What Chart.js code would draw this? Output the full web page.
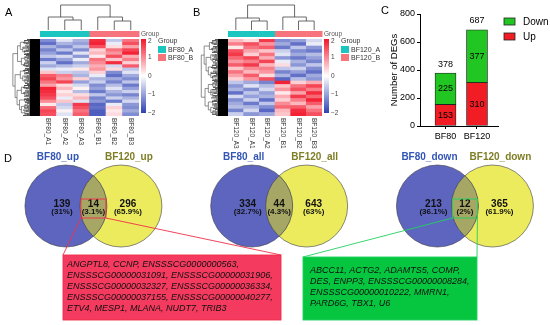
<!DOCTYPE html>
<html>
<head>
<meta charset="utf-8">
<script src="https://cdn.jsdelivr.net/npm/chart.js@4.4.1/dist/chart.umd.min.js"></script>
<style>
  html, body { margin: 0; padding: 0; background: #fff; }
  #fig { position: relative; width: 550px; height: 325px; overflow: hidden; font-family: "Liberation Sans", Arial, sans-serif; }
  #fig canvas { position: absolute; }
  .tag { position: absolute; font-size: 11px; line-height: 11px; color: #000; }
</style>
</head>
<body>
<div id="fig">
  <canvas id="heatA" width="200" height="150" style="left:0;top:0"></canvas>
  <canvas id="heatB" width="200" height="150" style="left:190px;top:0"></canvas>
  <canvas id="degBar" width="170" height="150" style="left:380px;top:0"></canvas>
  <canvas id="venn" width="550" height="180" style="left:0;top:145px"></canvas>
  <div class="tag" style="left:5px;top:7px">A</div>
  <div class="tag" style="left:193px;top:7px">B</div>
  <div class="tag" style="left:381px;top:5px">C</div>
  <div class="tag" style="left:4px;top:153px">D</div>
</div>
<script>
// ---- A / B : heatmaps (z-scores, rows top -> bottom)
const samplesA = ['BF80_A1', 'BF80_A2', 'BF80_A3', 'BF80_B1', 'BF80_B2', 'BF80_B3'];
const groupsA = ['A', 'A', 'A', 'B', 'B', 'B'];
const legendA = ['BF80_A', 'BF80_B'];
const zA = [
  [-1.2, -0.3, -0.8,  1.8, -0.6,  1.2],
  [-1.5, -0.8, -1.0,  1.9, -0.2,  1.5],
  [-0.8, -1.2, -0.6,  1.5,  0.3,  0.8],
  [-1.3, -0.6, -1.2,  0.4,  1.2,  1.6],
  [-1.0, -1.4, -0.3,  0.6,  0.9,  1.9],
  [-0.6, -0.4, -1.1,  0.2,  1.5,  0.7],
  [-1.4, -1.0, -0.2,  1.2,  0.5,  1.1],
  [-0.5, -1.5, -0.9,  1.0,  1.8,  0.4],
  [-0.9, -0.7, -0.5,  0.7, -0.4,  1.4],
  [-0.3, -0.2,  0.2,  0.9,  0.3, -0.6],
  [ 0.5, -0.5, -0.6,  0.4, -1.2, -0.3],
  [ 1.4,  1.1, -0.8, -0.2, -1.5, -0.9],
  [ 1.6,  0.9,  0.4, -0.8, -0.9, -1.2],
  [ 1.2,  1.6, -1.0, -0.5, -1.3, -0.6],
  [ 0.8,  0.3, -0.4, -1.2, -0.7, -1.4],
  [ 1.9,  0.6,  0.1, -1.0, -0.3, -1.0],
  [ 1.8,  0.2, -0.7, -1.4, -0.8, -0.5],
  [ 1.7,  0.4,  0.3, -0.6, -1.1, -1.3],
  [ 1.5, -0.2,  0.6, -1.3, -0.5, -0.8],
  [ 1.0,  0.5, -0.3, -1.1, -1.4, -0.4],
  [ 0.2, -0.6,  1.7, -1.6, -0.2, -1.1],
  [ 1.3, -0.4,  1.5, -1.5,  0.4, -1.2],
  [ 1.6,  0.1,  1.2, -1.7,  0.2, -0.9],
  [ 1.5, -0.3,  1.4, -1.7,  0.3, -1.2]
];
const colTreeA = { h: 25, c: [{ h: 13, c: [0, { h: 10, c: [1, 2] }] }, { h: 13, c: [3, { h: 9, c: [4, 5] }] }] };
const rowTreeA = [[[[0, 1], [2, [3, 4]]], [[5, 6], [7, 8]]], [[[9, 10], [11, [12, 13]]], [[[14, 15], [16, 17]], [[18, 19], [[20, 21], [22, 23]]]]]];

const samplesB = ['BF120_A3', 'BF120_A1', 'BF120_A2', 'BF120_B1', 'BF120_B2', 'BF120_B3'];
const groupsB = ['A', 'A', 'A', 'B', 'B', 'B'];
const legendB = ['BF120_A', 'BF120_B'];
const zB = [
  [ 0.6,  0.3,  1.7, -1.2, -1.0, -0.4],
  [ 1.1,  1.5,  0.9, -0.9, -1.5, -0.2],
  [ 0.2,  1.2,  1.4, -1.4, -0.6, -1.1],
  [ 1.5,  0.8,  0.5, -0.5, -1.2, -1.4],
  [ 1.7,  0.4,  1.2, -0.3, -0.9, -0.7],
  [ 1.3,  1.6,  0.7, -1.1, -1.4, -1.0],
  [ 0.9,  1.1,  1.6, -0.2, -0.8, -1.3],
  [ 1.4,  1.7,  0.6,  0.3, -1.1, -0.6],
  [ 0.5,  1.0,  1.1, -0.6, -0.5, -1.2],
  [ 1.2,  0.6,  0.9, -1.3, -1.0, -1.5],
  [ 0.8,  1.4,  0.3, -0.8, -1.5, -0.9],
  [ 0.4,  0.9,  1.5, -1.6, -0.7, -1.1],
  [-0.6, -0.9, -1.3,  1.9,  0.4,  0.7],
  [-1.1, -0.3, -0.7,  0.5,  1.2,  1.6],
  [-0.8, -1.2, -0.4,  0.9,  1.5,  1.1],
  [-1.5, -0.6, -1.0,  0.2,  0.8,  1.8],
  [-0.4, -1.0, -0.8,  0.7,  1.7,  1.3],
  [-1.2, -0.5, -1.5,  0.4,  1.1,  1.9],
  [-0.9, -1.4, -0.6,  1.0,  0.6,  1.4],
  [-0.7, -0.8, -1.2,  1.3,  1.4,  0.8],
  [-1.3, -0.4, -1.6,  0.6,  1.8,  1.2],
  [-0.5, -1.1, -0.9,  0.5,  1.9,  1.5]
];
const colTreeB = { h: 25, c: [{ h: 12, c: [0, { h: 9, c: [1, 2] }] }, { h: 13, c: [3, { h: 9, c: [4, 5] }] }] };
const rowTreeB = [[[[0, 1], [2, 3]], [[4, [5, 6]], [[7, 8], [9, [10, 11]]]]], [[[12, 13], [14, [15, 16]]], [[17, 18], [19, [20, 21]]]]];

const zTicks = [2, 1, 0, -1, -2];

// ---- C : DEG counts
const barCats = ['BF80', 'BF120'];
const upCounts = [153, 310];
const downCounts = [225, 377];

// ---- D : venn diagrams
const vennNames = [['BF80_up', 'BF120_up'], ['BF80_all', 'BF120_all'], ['BF80_down', 'BF120_down']];
const vennCounts = [[139, 14, 296], [334, 44, 643], [213, 12, 365]];
const vennPct = [['31%', '3.1%', '65.9%'], ['32.7%', '4.3%', '63%'], ['36.1%', '2%', '61.9%']];
const upSharedGenes = [
  'ANGPTL8, CCNP, ENSSSCG0000000563,',
  'ENSSSCG00000031091, ENSSSCG00000031906,',
  'ENSSSCG00000032327, ENSSSCG00000036334,',
  'ENSSSCG00000037155, ENSSSCG00000040277,',
  'ETV4, MESP1, MLANA, NUDT7, TRIB3'
];
const downSharedGenes = [
  'ABCC11, ACTG2, ADAMTS5, COMP,',
  'DES, ENPP3, ENSSSCG00000008284,',
  'ENSSSCG00000010222, MMRN1,',
  'PARD6G, TBX1, U6'
];

const FONT = '"Liberation Sans", Arial, sans-serif';
const C = {
  low: [45, 65, 180],
  high: [242, 22, 42],
  teal: '#1cc6c0',
  pink: '#f8747c',
  tree: '#444',
  up: '#f21d24',
  down: '#22c622',
  blue: '#5d65bf',
  yellow: '#ebeb5d',
  olive: '#a6a665',
  blueTxt: '#3355b5',
  oliveTxt: '#7e7e26',
  redBox: '#f43a5e',
  redLine: '#f0304a',
  greenBox: '#06c640',
  greenLine: '#22d060'
};

function zColor(v) {
  const t = Math.max(-1, Math.min(1, v / 2));
  const end = t < 0 ? C.low : C.high;
  const k = Math.abs(t);
  const c = [0, 1, 2].map(j => Math.round(255 + (end[j] - 255) * k));
  return 'rgb(' + c.join(',') + ')';
}

function line(ctx, x1, y1, x2, y2) {
  ctx.beginPath(); ctx.moveTo(x1, y1); ctx.lineTo(x2, y2); ctx.stroke();
}

// dendrograms, group strip, colour key, legend, sample labels
function heatDecor(samples, groups, colTree, rowTree, legendNames) {
  const jitter = [3, 6, 2, 7, 4, 1, 5, 3, 7, 2, 4, 6, 1, 3, 6, 4, 2, 5, 3, 1, 5];
  return {
    id: 'heatDecor',
    afterDraw(chart) {
      const { ctx, chartArea: a } = chart;
      const xs = chart.scales.x, ys = chart.scales.y;
      const n = chart.data.datasets.length;
      const cw = (a.right - a.left) / samples.length;
      ctx.save();

      // group strip
      groups.forEach((g, i) => {
        ctx.fillStyle = g === 'A' ? C.teal : C.pink;
        ctx.fillRect(a.left + i * cw, a.top - 8, cw + 0.5, 6);
      });

      // column dendrogram
      ctx.strokeStyle = C.tree; ctx.lineWidth = 0.8;
      const base = a.top - 9;
      const colNode = node => {
        if (typeof node === 'number') return { x: xs.getPixelForValue(node), y: base };
        const l = colNode(node.c[0]), r = colNode(node.c[1]);
        const y = base - node.h;
        line(ctx, l.x, l.y, l.x, y); line(ctx, r.x, r.y, r.x, y); line(ctx, l.x, y, r.x, y);
        return { x: (l.x + r.x) / 2, y };
      };
      colNode(colTree);

      // row dendrogram: dense fringe + coarse tree
      const h = a.bottom - a.top;
      ctx.fillStyle = '#000';
      ctx.fillRect(a.left - 10, a.top, 10, h);
      ctx.strokeStyle = '#000'; ctx.lineWidth = 0.7;
      const sub = n * 3;
      for (let k = 0; k < sub; k++) {
        const y = a.top + (k + 0.5) * h / sub;
        line(ctx, a.left - 10, y, a.left - 10 - jitter[k % jitter.length], y);
      }
      const fx = a.left - 12;
      ctx.strokeStyle = C.tree; ctx.lineWidth = 0.6;
      const rowNode = node => {
        if (typeof node === 'number') return { x: fx, y: ys.getPixelForValue(n - node - 0.5), size: 1 };
        const l = rowNode(node[0]), r = rowNode(node[1]);
        const size = l.size + r.size;
        const x = Math.min(fx - 3.3 * Math.log2(size), Math.min(l.x, r.x) - 1.5);
        line(ctx, l.x, l.y, x, l.y); line(ctx, r.x, r.y, x, r.y); line(ctx, x, l.y, x, r.y);
        return { x, y: (l.y + r.y) / 2, size };
      };
      rowNode(rowTree);

      // colour key
      const kx = a.right + 2, kt = a.top, kb = a.bottom - 3;
      const grad = ctx.createLinearGradient(0, kt, 0, kb);
      grad.addColorStop(0, zColor(2)); grad.addColorStop(0.5, '#fff'); grad.addColorStop(1, zColor(-2));
      ctx.fillStyle = grad;
      ctx.fillRect(kx, kt, 5, kb - kt);
      ctx.fillStyle = '#444';
      ctx.font = '6.5px ' + FONT;
      ctx.textAlign = 'left'; ctx.textBaseline = 'middle';
      zTicks.forEach(v => {
        const y = kt + (2 - v) / 4 * (kb - kt);
        ctx.fillText(v < 0 ? '\u2212' + Math.abs(v) : String(v), kx + 7, Math.max(y, kt + 2));
      });
      ctx.fillStyle = '#555';
      ctx.fillText('Group', kx, a.top - 5);

      // group legend
      const lx = a.right + 19;
      ctx.fillStyle = '#333';
      ctx.font = '7px ' + FONT;
      ctx.fillText('Group', lx, a.top + 2);
      [C.teal, C.pink].forEach((col, i) => {
        ctx.fillStyle = col;
        ctx.fillRect(lx, a.top + 7 + i * 8, 8, 7);
        ctx.fillStyle = '#333';
        ctx.fillText(legendNames[i], lx + 10, a.top + 11 + i * 8);
      });

      // sample labels (rotated clockwise)
      ctx.font = '6.5px ' + FONT;
      ctx.fillStyle = '#333';
      samples.forEach((s, i) => {
        ctx.save();
        ctx.translate(xs.getPixelForValue(i), a.bottom + 2);
        ctx.rotate(Math.PI / 2);
        ctx.fillText(s, 0, 0);
        ctx.restore();
      });
      ctx.restore();
    }
  };
}

function heatmap(id, samples, groups, z, colTree, rowTree, legendNames, pad) {
  const datasets = z.slice().reverse().map(row => ({
    data: row.map(() => 1),
    backgroundColor: row.map(zColor),
    borderWidth: 0,
    barPercentage: 1,
    categoryPercentage: 1
  }));
  new Chart(document.getElementById(id), {
    type: 'bar',
    data: { labels: samples, datasets },
    options: {
      responsive: false,
      animation: false,
      events: [],
      layout: { padding: pad, autoPadding: false },
      plugins: { legend: { display: false }, tooltip: { enabled: false } },
      scales: {
        x: { display: false, stacked: true },
        y: { display: false, stacked: true, min: 0, max: z.length }
      }
    },
    plugins: [heatDecor(samples, groups, colTree, rowTree, legendNames)]
  });
}

heatmap('heatA', samplesA, groupsA, zA, colTreeA, rowTreeA, legendA, { left: 40, right: 61, top: 39, bottom: 34 });
heatmap('heatB', samplesB, groupsB, zB, colTreeB, rowTreeB, legendB, { left: 38, right: 68, top: 39, bottom: 34 });

// ---- C
const BarLabels = {
  id: 'BarLabels',
  afterDatasetsDraw(chart) {
    const { ctx, chartArea: a } = chart;
    ctx.save();
    ctx.font = '9px ' + FONT;
    ctx.fillStyle = '#000';
    ctx.textAlign = 'center'; ctx.textBaseline = 'middle';
    chart.data.datasets.forEach((ds, di) => {
      chart.getDatasetMeta(di).data.forEach((el, i) => {
        ctx.fillText(String(ds.data[i].y), el.x, (el.y + el.base) / 2);
      });
    });
    chart.getDatasetMeta(1).data.forEach((el, i) => {
      ctx.fillText(String(upCounts[i] + downCounts[i]), el.x, el.y - 9);
    });
    // legend
    ctx.font = '10px ' + FONT;
    ctx.textAlign = 'left';
    [['Down', C.down], ['Up', C.up]].forEach(([name, col], i) => {
      const y = a.top + 4 + i * 15;
      ctx.fillStyle = col;
      ctx.fillRect(a.right + 6, y, 11, 7);
      ctx.strokeStyle = '#222'; ctx.lineWidth = 0.8;
      ctx.strokeRect(a.right + 6, y, 11, 7);
      ctx.fillStyle = '#000';
      ctx.fillText(name, a.right + 25, y + 4);
    });
    ctx.restore();
  }
};

new Chart(document.getElementById('degBar'), {
  type: 'bar',
  data: {
    datasets: [
      { label: 'Up', data: upCounts.map((v, i) => ({ x: i + 1, y: v })), backgroundColor: C.up },
      { label: 'Down', data: downCounts.map((v, i) => ({ x: i + 1, y: v })), backgroundColor: C.down }
    ]
  },
  options: {
    responsive: false,
    animation: false,
    events: [],
    layout: { padding: { top: 14, right: 52, left: 0, bottom: 0 } },
    plugins: { legend: { display: false }, tooltip: { enabled: false } },
    datasets: { bar: { barThickness: 21, borderColor: '#222', borderWidth: 0.8, borderSkipped: false } },
    scales: {
      x: {
        type: 'linear', stacked: true, offset: false,
        min: 0.19, max: 2.667,
        afterBuildTicks: s => { s.ticks = barCats.map((_, i) => ({ value: i + 1 })); },
        afterFit: s => { s.height = 24; },
        ticks: { callback: v => barCats[v - 1], color: '#000', font: { size: 9, family: FONT }, autoSkip: false, maxRotation: 0, padding: 2 },
        grid: { display: true, drawOnChartArea: false, drawTicks: true, tickLength: 3, color: '#000', offset: false },
        border: { color: '#000', width: 1 }
      },
      y: {
        stacked: true, min: 0, max: 800,
        afterFit: s => { s.width = 40; },
        ticks: { stepSize: 200, color: '#000', font: { size: 9, family: FONT }, padding: 2 },
        grid: { display: true, drawOnChartArea: false, drawTicks: true, tickLength: 3, color: '#000' },
        border: { color: '#000', width: 1 },
        title: { display: true, text: 'Number of DEGs', color: '#000', font: { size: 9.5, family: FONT }, padding: { top: 9, bottom: 0 } }
      }
    }
  },
  plugins: [BarLabels]
});

// ---- D
const V = { off: 0.148, y: 0.661, r: 41 };
const boxes = [
  { lines: upSharedGenes, venn: 0, left: 63, right: 281, top: 110, bottom: 175, tx: 67, ty: 119, fill: C.redBox, line: C.redLine },
  { lines: downSharedGenes, venn: 2, left: 303, right: 477, top: 112, bottom: 175, tx: 310, ty: 125, fill: C.greenBox, line: C.greenLine }
];

const VennDecor = {
  id: 'VennDecor',
  afterDatasetsDraw(chart) {
    const ctx = chart.ctx;
    const mb = chart.getDatasetMeta(0).data, my = chart.getDatasetMeta(1).data;
    ctx.save();
    const mids = [];
    mb.forEach((b, i) => {
      const y = my[i];
      ctx.save();
      ctx.beginPath(); ctx.arc(b.x, b.y, V.r, 0, Math.PI * 2); ctx.clip();
      ctx.beginPath(); ctx.arc(y.x, y.y, V.r, 0, Math.PI * 2);
      ctx.fillStyle = C.olive; ctx.fill();
      ctx.restore();
      ctx.lineWidth = 0.8; ctx.strokeStyle = 'rgba(60,60,70,0.75)';
      ctx.beginPath(); ctx.arc(b.x, b.y, V.r, 0, Math.PI * 2); ctx.stroke();
      ctx.beginPath(); ctx.arc(y.x, y.y, V.r, 0, Math.PI * 2); ctx.stroke();

      const mid = (b.x + y.x) / 2;
      mids.push({ x: mid, y: b.y });
      const xs = [b.x - 4, mid, y.x + 7];
      ctx.fillStyle = '#111';
      ctx.textAlign = 'center'; ctx.textBaseline = 'middle';
      xs.forEach((x, k) => {
        ctx.font = 'bold 10px ' + FONT;
        ctx.fillText(String(vennCounts[i][k]), x, b.y - 2);
        ctx.font = 'bold 8px ' + FONT;
        ctx.fillText('(' + vennPct[i][k] + ')', x, b.y + 6);
      });
      ctx.font = 'bold 10px ' + FONT;
      ctx.fillStyle = C.blueTxt;
      ctx.fillText(vennNames[i][0], b.x - 8, 12);
      ctx.fillStyle = C.oliveTxt;
      ctx.fillText(vennNames[i][1], y.x + 8, 12);
    });

    boxes.forEach(bx => {
      const m = mids[bx.venn];
      const r = { l: m.x - 12.5, r: m.x + 12.5, t: m.y - 7, b: m.y + 12 };
      ctx.fillStyle = bx.fill;
      ctx.fillRect(bx.left, bx.top, bx.right - bx.left, bx.bottom - bx.top);
      ctx.strokeStyle = bx.line; ctx.lineWidth = 0.9;
      ctx.strokeRect(bx.left, bx.top, bx.right - bx.left, bx.bottom - bx.top);
      ctx.strokeRect(r.l, r.t, r.r - r.l, r.b - r.t);
      line(ctx, r.l, r.b, bx.left, bx.top);
      line(ctx, r.r, r.b, bx.right, bx.top);
      ctx.fillStyle = '#111';
      ctx.font = 'italic 9px ' + FONT;
      ctx.textAlign = 'left'; ctx.textBaseline = 'middle';
      bx.lines.forEach((t, k) => ctx.fillText(t, bx.tx, bx.ty + k * 11));
    });
    ctx.restore();
  }
};

new Chart(document.getElementById('venn'), {
  type: 'bubble',
  data: {
    datasets: [
      { data: vennCounts.map((_, i) => ({ x: i - V.off, y: V.y, r: V.r })), backgroundColor: C.blue, borderWidth: 0 },
      { data: vennCounts.map((_, i) => ({ x: i + V.off, y: V.y, r: V.r })), backgroundColor: C.yellow, borderWidth: 0 }
    ]
  },
  options: {
    responsive: false,
    animation: false,
    events: [],
    layout: { padding: 0, autoPadding: false },
    plugins: { legend: { display: false }, tooltip: { enabled: false } },
    scales: {
      x: { display: false, min: -0.503, max: 2.458 },
      y: { display: false, min: 0, max: 1 }
    }
  },
  plugins: [VennDecor]
});
</script>
</body>
</html>
